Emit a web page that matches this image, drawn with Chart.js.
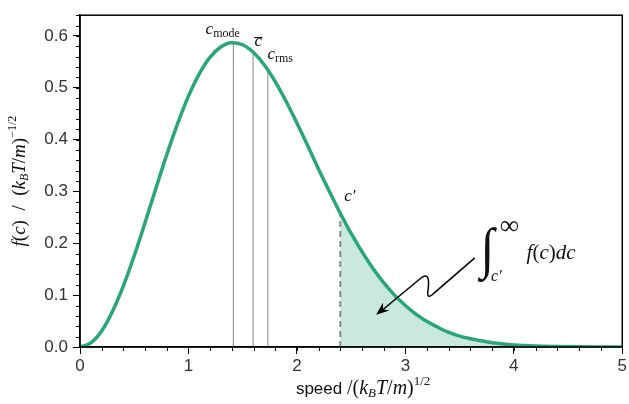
<!DOCTYPE html>
<html>
<head>
<meta charset="utf-8">
<script src="https://cdn.jsdelivr.net/npm/chart.js@4.4.1/dist/chart.umd.min.js"></script>
<style>
  html, body { margin: 0; padding: 0; background: #fff; }
  #wrap { width: 629px; height: 404px; }
</style>
</head>
<body>
<div id="wrap"><canvas id="chart"></canvas></div>
<script>
// speed (reduced units) and f(c)
const speeds = [0, 0.1, 0.2, 0.3, 0.4, 0.5, 0.6, 0.7, 0.8, 0.9, 1.0, 1.1, 1.2, 1.3, 1.4, 1.5, 1.6, 1.7, 1.8, 1.9,
  2.0, 2.1, 2.2, 2.3, 2.4, 2.5, 2.6, 2.7, 2.8, 2.9, 3.0, 3.1, 3.2, 3.3, 3.4, 3.5, 3.6, 3.7, 3.8, 3.9,
  4.0, 4.2, 4.4, 4.6, 4.8, 5.0];
const density = [0, 0.008, 0.031, 0.069, 0.118, 0.176, 0.240, 0.306, 0.371, 0.431, 0.484, 0.527, 0.559, 0.579, 0.587, 0.583, 0.568, 0.544, 0.512, 0.474,
  0.432, 0.388, 0.343, 0.300, 0.258, 0.219, 0.184, 0.152, 0.124, 0.100, 0.080, 0.063, 0.049, 0.038, 0.028, 0.021, 0.016, 0.012, 0.008, 0.006,
  0.004, 0.002, 0.001, 0.0004, 0.0002, 0.0001];

// characteristic speeds and the height of the curve there
const markNames = ['mode', 'mean', 'rms', 'prime'];
const markSpeeds = [1.414, 1.596, 1.732, 2.4];
const markHeights = [0.587, 0.569, 0.535, 0.258];

const xTicks = [0, 1, 2, 3, 4, 5];
const yTicks = [0, 0.1, 0.2, 0.3, 0.4, 0.5, 0.6];

const green = '#29a47d';
const cPrime = markSpeeds[3];

const curve = speeds.map((s, i) => ({x: s, y: density[i]}));
const tail = curve.filter(p => p.x >= cPrime);

function vline(i) {
  return [{x: markSpeeds[i], y: 0}, {x: markSpeeds[i], y: markHeights[i]}];
}

// minor ticks + frame
const framePlugin = {
  id: 'frame',
  afterDraw(chart) {
    const ctx = chart.ctx, a = chart.chartArea;
    const xs = chart.scales.x, ys = chart.scales.y;
    ctx.save();
    ctx.strokeStyle = '#000';
    ctx.lineWidth = 1.5;
    ctx.strokeRect(a.left, a.top, a.right - a.left, a.bottom - a.top);
    ctx.lineWidth = 1;
    ctx.beginPath();
    for (let v = 0; v <= 5.001; v += 0.2) {
      const px = Math.round(xs.getPixelForValue(v)) + 0.5;
      ctx.moveTo(px, a.bottom);
      ctx.lineTo(px, a.bottom + 4);
    }
    for (let v = 0; v <= 0.641; v += 0.02) {
      const py = Math.round(ys.getPixelForValue(v)) + 0.5;
      ctx.moveTo(a.left, py);
      ctx.lineTo(a.left - 4, py);
    }
    ctx.stroke();
    ctx.restore();
  }
};

// draw a run of text pieces, each with its own font and baseline shift
function rich(ctx, parts, x, y, align) {
  let w = 0;
  parts.forEach(p => { ctx.font = p.f; p.w = ctx.measureText(p.t).width; w += p.w; });
  let cx = align === 'center' ? x - w / 2 : x;
  parts.forEach(p => {
    ctx.font = p.f;
    ctx.fillText(p.t, cx, y + (p.dy || 0));
    cx += p.w;
  });
}

const SERIF = '"Liberation Serif"';
const it = s => 'italic ' + s + 'px ' + SERIF;
const up = s => s + 'px ' + SERIF;

const textPlugin = {
  id: 'texts',
  afterDraw(chart) {
    const ctx = chart.ctx;
    const xs = chart.scales.x, ys = chart.scales.y;
    const X = v => xs.getPixelForValue(v), Y = v => ys.getPixelForValue(v);
    ctx.save();
    ctx.fillStyle = '#111';
    ctx.textBaseline = 'alphabetic';
    ctx.textAlign = 'left';

    // axis titles
    rich(ctx, [
      {t: 'speed ', f: '17px "Liberation Sans"'},
      {t: '/(', f: up(20)}, {t: 'k', f: it(20)}, {t: 'B', f: it(13), dy: 3},
      {t: 'T', f: it(20)}, {t: '/', f: up(20)}, {t: 'm', f: it(20)}, {t: ')', f: up(20)},
      {t: '1/2', f: up(13), dy: -9}
    ], (chart.chartArea.left + chart.chartArea.right) / 2 + 12, 394, 'center');

    ctx.save();
    ctx.translate(25, (chart.chartArea.top + chart.chartArea.bottom) / 2);
    ctx.rotate(-Math.PI / 2);
    rich(ctx, [
      {t: 'f', f: it(19)}, {t: '(', f: up(19)}, {t: 'c', f: it(19)}, {t: ')  /  (', f: up(19)},
      {t: 'k', f: it(19)}, {t: 'B', f: it(12), dy: 3}, {t: 'T', f: it(19)}, {t: '/', f: up(19)},
      {t: 'm', f: it(19)}, {t: ')', f: up(19)}, {t: '\u22121/2', f: up(12), dy: -9}
    ], 0, 0, 'center');
    ctx.restore();

    // speed labels
    rich(ctx, [{t: 'c', f: it(17)}, {t: 'mode', f: up(12), dy: 3}], X(1.158), Y(0.603), 'left');
    rich(ctx, [{t: 'c', f: it(17)}], X(1.608), Y(0.580), 'left');
    ctx.fillRect(X(1.608), Y(0.598), 8, 1.2);
    rich(ctx, [{t: 'c', f: it(17)}, {t: 'rms', f: up(12), dy: 3}], X(1.728), Y(0.556), 'left');
    rich(ctx, [{t: 'c\u2032', f: it(17)}], X(2.436), Y(0.282), 'left');

    // integral
    ctx.save();
    ctx.translate(X(3.69), Y(0.155));
    ctx.scale(1.1, 1.22);
    ctx.font = it(46);
    ctx.fillText('\u222B', 0, 0);
    ctx.restore();
    rich(ctx, [{t: '\u221E', f: up(27)}], X(3.87), Y(0.218), 'left');
    rich(ctx, [{t: 'c\u2032', f: it(16)}], X(3.79), Y(0.128), 'left');
    rich(ctx, [{t: 'f', f: it(21)}, {t: '(', f: up(21)}, {t: 'c', f: it(21)}, {t: ')', f: up(21)},
      {t: 'd', f: it(21)}, {t: 'c', f: it(21)}], X(4.118), Y(0.169), 'left');

    // squiggly arrow
    ctx.strokeStyle = '#000';
    ctx.lineWidth = 1.5;
    ctx.beginPath();
    ctx.moveTo(X(3.64), Y(0.172));
    ctx.lineTo(X(3.27), Y(0.105));
    ctx.quadraticCurveTo(X(3.19), Y(0.088), X(3.21), Y(0.111));
    ctx.quadraticCurveTo(X(3.23), Y(0.146), X(3.15), Y(0.134));
    ctx.lineTo(X(2.78), Y(0.070));
    ctx.stroke();
    const tx = X(2.73), ty = Y(0.062);
    const ang = Math.atan2(ty - Y(0.134), tx - X(3.15));
    ctx.translate(tx, ty);
    ctx.rotate(ang);
    ctx.fillStyle = '#000';
    ctx.beginPath();
    ctx.moveTo(0, 0);
    ctx.lineTo(-13, -5);
    ctx.lineTo(-9, 0);
    ctx.lineTo(-13, 5);
    ctx.closePath();
    ctx.fill();
    ctx.restore();
  }
};

const ctx = document.getElementById('chart').getContext('2d');
new Chart(ctx, {
  type: 'line',
  data: {
    datasets: [
      {data: curve, borderColor: green, borderWidth: 3.5, pointRadius: 0, cubicInterpolationMode: 'monotone', fill: false, order: 0},
      {data: tail, borderWidth: 0, borderColor: 'rgba(0,0,0,0)', backgroundColor: 'rgba(41,164,125,0.25)', pointRadius: 0,
        cubicInterpolationMode: 'monotone', fill: 'origin', order: 3},
      {data: vline(0), borderColor: '#9a9a9a', borderWidth: 1.2, pointRadius: 0, order: 2},
      {data: vline(1), borderColor: '#9a9a9a', borderWidth: 1.2, pointRadius: 0, order: 2},
      {data: vline(2), borderColor: '#9a9a9a', borderWidth: 1.2, pointRadius: 0, order: 2},
      {data: vline(3), borderColor: '#888', borderWidth: 2, borderDash: [6, 4], pointRadius: 0, order: 2}
    ]
  },
  options: {
    responsive: true,
    maintainAspectRatio: false,
    animation: false,
    layout: {padding: {top: 12, right: 4, left: 0, bottom: 0}},
    plugins: {legend: {display: false}, tooltip: {enabled: false}},
    scales: {
      x: {
        type: 'linear', min: 0, max: 5,
        afterFit: s => { s.height = 57; },
        afterBuildTicks: s => { s.ticks = xTicks.map(v => ({value: v})); },
        ticks: {color: '#333', font: {family: '"Liberation Sans"', size: 17}, padding: 2, maxRotation: 0},
        grid: {drawOnChartArea: false, tickLength: 7, color: '#000', tickWidth: 1},
        border: {color: '#000', width: 1.5}
      },
      y: {
        type: 'linear', min: 0, max: 0.64,
        afterFit: s => { s.width = 80; },
        afterBuildTicks: s => { s.ticks = yTicks.map(v => ({value: v})); },
        ticks: {color: '#333', font: {family: '"Liberation Sans"', size: 17}, padding: 5, callback: v => v.toFixed(1)},
        grid: {drawOnChartArea: false, tickLength: 7, color: '#000', tickWidth: 1},
        border: {color: '#000', width: 1.5}
      }
    }
  },
  plugins: [framePlugin, textPlugin]
});
</script>
</body>
</html>
